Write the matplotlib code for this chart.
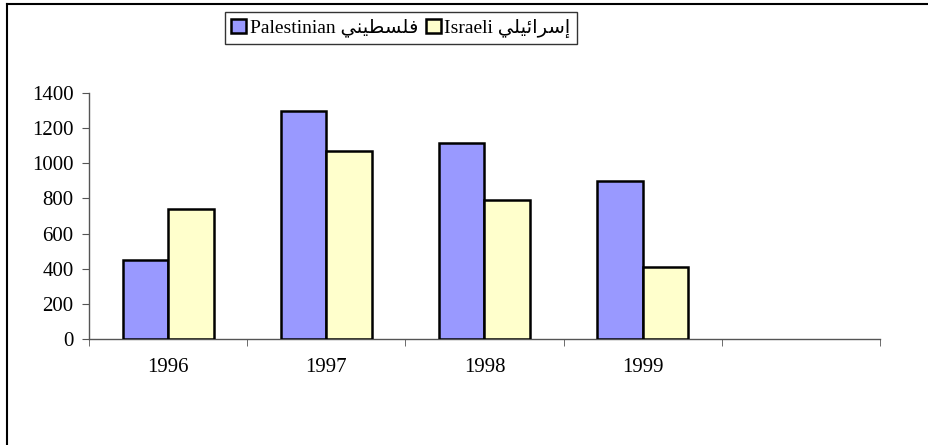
import matplotlib
matplotlib.use('Agg')
import matplotlib.pyplot as plt
from matplotlib.lines import Line2D
from matplotlib.patches import Patch
import numpy as np

# data
years = ['1996', '1997', '1998', '1999', '']
palestinian = [450, 1300, 1115, 900]
israeli = [740, 1070, 790, 410]

# arabic words in presentation forms, visual order (matplotlib does no shaping)
ar_pal = '\uFEF2\uFEE8\uFEF4\uFEC4\uFEB4\uFEE0\uFED3'
ar_isr = '\uFEF2\uFEE0\uFEF4\uFE8B\uFE8D\uFEAE\uFEB3\uFE87'
labels = ['Palestinian ' + ar_pal, 'Israeli ' + ar_isr]

fam = ['Liberation Serif', 'DejaVu Sans']
plt.rcParams['font.family'] = fam

fig = plt.figure(figsize=(9.29, 4.45), dpi=100)
ax = fig.add_axes([89 / 929, 1 - 339 / 445, (880 - 89) / 929, (339 - 93) / 445])

x = np.arange(len(years))
w = 0.288
ax.bar(x[:4] - w / 2, palestinian, w, color='#9999FF', edgecolor='black', linewidth=1.8, zorder=3)
ax.bar(x[:4] + w / 2, israeli, w, color='#FFFFCC', edgecolor='black', linewidth=1.8, zorder=3)

ax.set_xlim(-0.5, len(years) - 0.5)
ax.set_ylim(0, 1400)
ax.set_yticks(range(0, 1401, 200))
ax.set_xticks(x)
ax.set_xticklabels(years)
ax.set_xticks(np.arange(-0.5, len(years), 1), minor=True)
ax.tick_params(axis='x', which='major', length=0, pad=14, labelsize=15)
ax.tick_params(axis='x', which='minor', length=5, direction='out', color='#555555')
ax.tick_params(axis='y', length=5, direction='out', color='#555555', labelsize=15, pad=6)

for s in ['top', 'right']:
    ax.spines[s].set_visible(False)
for s in ['left', 'bottom']:
    ax.spines[s].set_color('#555555')
    ax.spines[s].set_linewidth(1.0)

handles = [Patch(facecolor='#9999FF', edgecolor='black', linewidth=1.8),
           Patch(facecolor='#FFFFCC', edgecolor='black', linewidth=1.8)]
leg = fig.legend(handles, labels, loc='center', bbox_to_anchor=(401 / 929, 1 - 28 / 445),
                 ncol=2, frameon=True, fancybox=False, fontsize=14,
                 handlelength=0.75, handleheight=0.75, handletextpad=0.2,
                 columnspacing=0.4, borderpad=0.35, borderaxespad=0)
leg.get_frame().set_edgecolor('black')
leg.get_frame().set_linewidth(1.0)

# chart area border (only top and left visible)
fig.add_artist(Line2D([7 / 929, 1], [1 - 4 / 445, 1 - 4 / 445], transform=fig.transFigure,
                      color='black', linewidth=1.5))
fig.add_artist(Line2D([7 / 929, 7 / 929], [0, 1 - 4 / 445], transform=fig.transFigure,
                      color='black', linewidth=1.5))

plt.savefig('out.png', dpi=100)
